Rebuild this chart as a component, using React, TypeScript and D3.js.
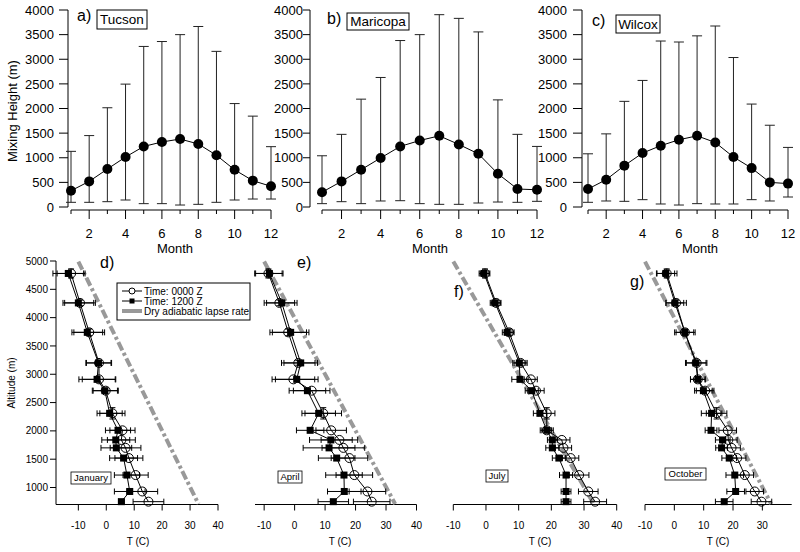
import * as d3 from 'd3';

const FONT = '"Liberation Sans", Arial, Helvetica, sans-serif';

// ---- top row: mixing height by month ----
const months = [1, 2, 3, 4, 5, 6, 7, 8, 9, 10, 11, 12];
const monthTicks = [2, 4, 6, 8, 10, 12];
const heightTicks = [0, 500, 1000, 1500, 2000, 2500, 3000, 3500, 4000];

const tucsonMean = [330, 520, 770, 1015, 1230, 1320, 1380, 1280, 1050, 755, 535, 420];
const tucsonHigh = [1130, 1450, 2015, 2495, 3260, 3360, 3500, 3665, 3160, 2100, 1845, 1225];
const tucsonLow = [95, 95, 108, 142, 68, 68, 40, 54, 95, 142, 162, 162];

const maricopaMean = [300, 520, 757, 995, 1230, 1350, 1445, 1270, 1080, 675, 365, 350];
const maricopaHigh = [1040, 1475, 2190, 2630, 3380, 3500, 3905, 3830, 3555, 2175, 1475, 1230];
const maricopaLow = [68, 108, 68, 122, 128, 68, 54, 54, 81, 101, 95, 115];

const wilcoxMean = [365, 555, 840, 1095, 1245, 1365, 1445, 1310, 1015, 790, 500, 475];
const wilcoxHigh = [1080, 1485, 2145, 2570, 3370, 3350, 3475, 3675, 3035, 2090, 1660, 1210];
const wilcoxLow = [95, 122, 115, 149, 61, 40, 68, 61, 61, 149, 122, 203];

// ---- bottom row: temperature profiles ----
const altitudes = [4780, 4260, 3740, 3200, 2910, 2710, 2310, 2010, 1840, 1700, 1520, 1220, 930, 750];
const altTicks = [1000, 1500, 2000, 2500, 3000, 3500, 4000, 4500, 5000];
const altErr00 = [80, 50, 60, 40, 0, 0, 100, 0, 0, 0, 0, 0, 0, 0];

const janT00 = [-12.6, -9.4, -6.1, -2.6, -2.6, -0.2, 2.2, 5.8, 5.4, 6.9, 8.1, 10.5, 12.9, 15.1];
const janT12 = [-13.6, -10.0, -6.8, -2.8, -3.3, -0.5, 1.2, 4.2, 3.4, 3.6, 6.2, 7.4, 8.4, 5.4];
const janE00 = [5, 5.5, 5.5, 4.5, 6, 4.5, 4.5, 4.5, 5, 5.5, 5, 4.5, 5.5, 5.5];
const janE12 = [5.5, 5.5, 5.5, 4.5, 6.5, 4.5, 4.5, 4.5, 5, 5.5, 5, 4.5, 5.5, 1];

const aprT00 = [-8.6, -5.0, -2.1, 1.2, -0.4, 5.6, 9.4, 12.0, 14.7, 16.0, 18.0, 19.6, 23.9, 25.3];
const aprT12 = [-8.3, -4.2, -1.3, 2.0, 0.7, 4.2, 7.9, 5.1, 11.9, 11.3, 13.8, 16.2, 16.3, 12.7];
const aprE00 = [4.5, 5, 6, 5.5, 7, 6, 6, 5, 6, 7, 6, 6, 6, 6];
const aprE12 = [4.5, 5, 6, 5.5, 7, 6, 5.5, 4.5, 7, 8.5, 6, 6, 5.5, 5];

const julT00 = [-0.3, 3.1, 7.1, 10.6, 13.7, 15.3, 18.6, 18.6, 23.2, 23.7, 25.9, 28.5, 31.3, 33.4];
const julT12 = [-0.6, 2.8, 6.5, 10.2, 10.4, 14.0, 16.5, 18.6, 20.3, 20.3, 22.3, 24.5, 24.5, 24.5];
const julE00 = [1.5, 1.5, 1.5, 2, 2, 2.5, 2.5, 2, 2.5, 2.5, 2.5, 3, 3, 3.5];
const julE12 = [1.5, 1.5, 1.5, 2, 2.5, 2, 2, 1.5, 1.5, 2, 2, 2, 1.5, 1.5];

const octT00 = [-2.6, 0.6, 3.6, 7.6, 8.0, 10.5, 14.4, 18.2, 18.4, 19.5, 21.4, 24.0, 27.4, 29.7];
const octT12 = [-2.9, 0.2, 3.6, 7.3, 8.0, 9.9, 12.7, 12.5, 16.5, 16.1, 18.7, 20.6, 20.9, 17.0];
const octE00 = [3.5, 3.5, 3.5, 3.5, 2.5, 3, 3.5, 3, 3, 3, 3, 3, 3, 3.5];
const octE12 = [3, 3, 3, 3.5, 2.5, 3, 3.5, 2, 2.5, 2, 2.5, 3, 3, 3];

// dry adiabatic reference (altitude, temperature)
const dryAlt = [4990, 710];
const dryT = [-10, 33];

const yMix = d3.scaleLinear().domain([0, 4000]).range([207, 10]);
const yAlt = d3.scaleLinear().domain([700, 5000]).range([504.5, 261]);

function MixingPanel({ p, mean, high, low }) {
  const x = d3.scaleLinear().domain([1, 12]).range([p.x0, p.x1]);
  const line = d3.line().x((d, i) => x(months[i])).y(d => yMix(d));
  const axisY = 210;
  return (
    <g>
      {/* y axis */}
      <line x1={p.axisX} x2={p.axisX} y1={yMix(0)} y2={yMix(4000)} stroke="#000" />
      {heightTicks.map(t => (
        <g key={t}>
          <line x1={p.axisX - p.tick} x2={p.axisX} y1={yMix(t)} y2={yMix(t)} stroke="#000" />
          <text x={p.labelEnd} y={yMix(t)} dy="0.36em" textAnchor="end" fontSize={13}>{t}</text>
        </g>
      ))}
      {/* x axis */}
      <line x1={x(1)} x2={x(12)} y1={axisY} y2={axisY} stroke="#000" />
      {months.map(m => (
        <line key={m} x1={x(m)} x2={x(m)} y1={axisY} y2={axisY + (m % 2 === 0 ? 9 : 4)} stroke="#000" />
      ))}
      {monthTicks.map(m => (
        <text key={m} x={x(m)} y={238} textAnchor="middle" fontSize={13}>{m}</text>
      ))}
      <text x={p.monthX} y={253} textAnchor="middle" fontSize={13}>Month</text>
      {/* error bars */}
      {months.map((m, i) => (
        <g key={m} stroke="#222" strokeWidth={1}>
          <line x1={x(m)} x2={x(m)} y1={yMix(low[i])} y2={yMix(high[i])} />
          <line x1={x(m) - 5} x2={x(m) + 5} y1={yMix(low[i])} y2={yMix(low[i])} />
          <line x1={x(m) - 5} x2={x(m) + 5} y1={yMix(high[i])} y2={yMix(high[i])} />
        </g>
      ))}
      <path d={line(mean)} fill="none" stroke="#000" strokeWidth={1} />
      {months.map((m, i) => (
        <circle key={m} cx={x(m)} cy={yMix(mean[i])} r={5} fill="#000" />
      ))}
      <text x={p.letterX} y={p.letterY} fontSize={16}>{p.letter}</text>
      <rect x={p.box[0]} y={p.box[1]} width={p.box[2]} height={p.box[3]} fill="#fff" stroke="#000" />
      <text x={p.box[0] + p.box[2] / 2} y={p.box[1] + p.box[3] / 2} dy="0.36em" textAnchor="middle" fontSize={13.5}>{p.name}</text>
    </g>
  );
}

function ProfilePanel({ p, t00, t12, e00, e12 }) {
  const x = d3.scaleLinear().domain(p.domain).range(p.range);
  const axisY = yAlt(700);
  const line = d3.line().x(d => x(d[0])).y(d => yAlt(d[1]));
  const pts00 = t00.map((t, i) => [t, altitudes[i]]);
  const pts12 = t12.map((t, i) => [t, altitudes[i]]);
  const dry = dryT.map((t, i) => [t, dryAlt[i]]);
  return (
    <g>
      <line x1={p.range[0]} x2={p.range[1]} y1={axisY} y2={axisY} stroke="#000" />
      {p.ticks.map(t => (
        <g key={t}>
          <line x1={x(t)} x2={x(t)} y1={axisY} y2={axisY + 6} stroke="#000" />
          <text x={x(t)} y={529} textAnchor="middle" fontSize={10}>{t}</text>
        </g>
      ))}
      <text x={p.titleX} y={545} textAnchor="middle" fontSize={10}>T (C)</text>
      <path d={line(dry)} fill="none" stroke="#999" strokeWidth={4} strokeDasharray="9,3,3,3" />
      {/* error bars */}
      {[[t00, e00], [t12, e12]].map(([ts, es], s) => (
        <g key={s} stroke="#000" strokeWidth={1}>
          {ts.map((t, i) => {
            const yy = yAlt(altitudes[i]);
            return (
              <g key={i}>
                <line x1={x(t - es[i])} x2={x(t + es[i])} y1={yy} y2={yy} />
                <line x1={x(t - es[i])} x2={x(t - es[i])} y1={yy - 3} y2={yy + 3} />
                <line x1={x(t + es[i])} x2={x(t + es[i])} y1={yy - 3} y2={yy + 3} />
              </g>
            );
          })}
        </g>
      ))}
      <g stroke="#000" strokeWidth={1}>
        {t00.map((t, i) => altErr00[i] > 0 && (
          <g key={i}>
            <line x1={x(t)} x2={x(t)} y1={yAlt(altitudes[i] - altErr00[i])} y2={yAlt(altitudes[i] + altErr00[i])} />
            <line x1={x(t) - 3} x2={x(t) + 3} y1={yAlt(altitudes[i] + altErr00[i])} y2={yAlt(altitudes[i] + altErr00[i])} />
            <line x1={x(t) - 3} x2={x(t) + 3} y1={yAlt(altitudes[i] - altErr00[i])} y2={yAlt(altitudes[i] - altErr00[i])} />
          </g>
        ))}
      </g>
      <path d={line(pts00)} fill="none" stroke="#000" strokeWidth={1} />
      <path d={line(pts12)} fill="none" stroke="#000" strokeWidth={1} />
      {pts00.map((d, i) => (
        <circle key={i} cx={x(d[0])} cy={yAlt(d[1])} r={4.5} fill="none" stroke="#000" strokeWidth={1} />
      ))}
      {pts12.map((d, i) => (
        <rect key={i} x={x(d[0]) - 3.5} y={yAlt(d[1]) - 3.5} width={7} height={7} fill="#000" />
      ))}
      <text x={p.letterX} y={p.letterY} fontSize={16}>{p.letter}</text>
      <rect x={p.box[0]} y={p.box[1]} width={p.box[2]} height={p.box[3]} fill="#fff" stroke="#000" strokeWidth={0.8} />
      <text x={p.box[0] + p.box[2] / 2} y={p.box[1] + p.box[3] / 2} dy="0.36em" textAnchor="middle" fontSize={9.5}>{p.month}</text>
    </g>
  );
}

const topPanels = [
  { x0: 71, x1: 271, axisX: 68, tick: 9, labelEnd: 54, monthX: 175, letter: 'a)', letterX: 77, letterY: 21, name: 'Tucson', box: [97, 10, 50, 19] },
  { x0: 322, x1: 537, axisX: 310, tick: 7, labelEnd: 303, monthX: 430, letter: 'b)', letterX: 327, letterY: 24, name: 'Maricopa', box: [347, 13, 62, 17] },
  { x0: 588, x1: 788, axisX: 582, tick: 9, labelEnd: 567, monthX: 700, letter: 'c)', letterX: 592, letterY: 26, name: 'Wilcox', box: [616, 15, 44, 18] },
];

const bottomPanels = [
  { domain: [-18, 40], range: [56, 218], ticks: [-10, 0, 10, 20, 30, 40], titleX: 138, letter: 'd)', letterX: 100, letterY: 268, month: 'January', box: [71, 472, 40, 12] },
  { domain: [-13, 40], range: [255, 416.5], ticks: [-10, 0, 10, 20, 30, 40], titleX: 340, letter: 'e)', letterX: 297, letterY: 268, month: 'April', box: [278, 471, 24, 12] },
  { domain: [-10, 40], range: [453.3, 616.7], ticks: [-10, 0, 10, 20, 30, 40], titleX: 540, letter: 'f)', letterX: 454, letterY: 297, month: 'July', box: [486, 470, 22, 12] },
  { domain: [-10, 40], range: [645, 791.7], ticks: [-10, 0, 10, 20, 30], titleX: 718, letter: 'g)', letterX: 630, letterY: 287, month: 'October', box: [665, 468, 41, 12] },
];

export default function App() {
  return (
    <div style={{ position: 'fixed', left: 0, top: 0, background: '#fff' }}>
      <svg width={800} height={552} fontFamily={FONT} style={{ display: 'block' }}>
        <rect width={800} height={552} fill="#fff" />
        <text transform="translate(17,111) rotate(-90)" textAnchor="middle" fontSize={13}>Mixing Height (m)</text>
        <MixingPanel p={topPanels[0]} mean={tucsonMean} high={tucsonHigh} low={tucsonLow} />
        <MixingPanel p={topPanels[1]} mean={maricopaMean} high={maricopaHigh} low={maricopaLow} />
        <MixingPanel p={topPanels[2]} mean={wilcoxMean} high={wilcoxHigh} low={wilcoxLow} />

        {/* shared altitude axis */}
        <line x1={56} x2={56} y1={yAlt(700)} y2={yAlt(5000)} stroke="#000" />
        {altTicks.map(t => (
          <g key={t}>
            <line x1={50} x2={56} y1={yAlt(t)} y2={yAlt(t)} stroke="#000" />
            <text x={48} y={yAlt(t)} dy="0.36em" textAnchor="end" fontSize={10}>{t}</text>
          </g>
        ))}
        <text transform="translate(15,383) rotate(-90)" textAnchor="middle" fontSize={10}>Altitude (m)</text>

        <ProfilePanel p={bottomPanels[0]} t00={janT00} t12={janT12} e00={janE00} e12={janE12} />
        <ProfilePanel p={bottomPanels[1]} t00={aprT00} t12={aprT12} e00={aprE00} e12={aprE12} />
        <ProfilePanel p={bottomPanels[2]} t00={julT00} t12={julT12} e00={julE00} e12={julE12} />
        <ProfilePanel p={bottomPanels[3]} t00={octT00} t12={octT12} e00={octE00} e12={octE12} />

        {/* legend */}
        <g fontSize={10}>
          <rect x={117} y={283} width={133} height={37} fill="#fff" stroke="#000" />
          <line x1={122} x2={142} y1={291} y2={291} stroke="#000" />
          <circle cx={132} cy={291} r={3} fill="#fff" stroke="#000" />
          <text x={144} y={291} dy="0.36em">Time: 0000 Z</text>
          <line x1={122} x2={142} y1={301} y2={301} stroke="#000" />
          <rect x={129.5} y={298.5} width={5} height={5} fill="#000" />
          <text x={144} y={301} dy="0.36em">Time: 1200 Z</text>
          <line x1={122} x2={142} y1={311} y2={311} stroke="#999" strokeWidth={4} />
          <text x={144} y={311} dy="0.36em">Dry adiabatic lapse rate</text>
        </g>
      </svg>
    </div>
  );
}
